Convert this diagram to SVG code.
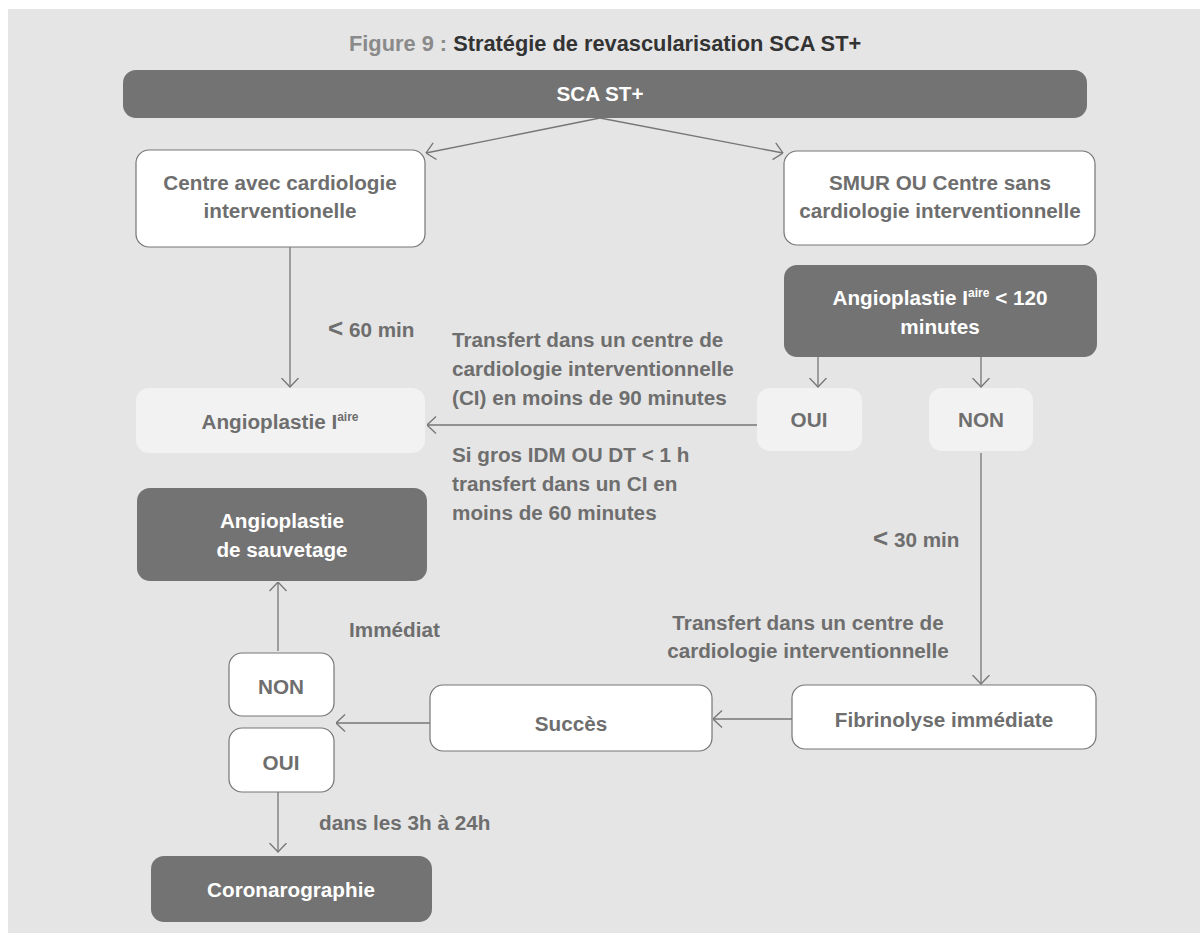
<svg xmlns="http://www.w3.org/2000/svg" width="1200" height="935" viewBox="0 0 1200 935">
  <defs>
    <marker id="arrow" viewBox="0 0 10 19" refX="9.5" refY="9.5" markerWidth="10" markerHeight="19" markerUnits="userSpaceOnUse" orient="auto">
      <path d="M0.5,1 L9.5,9.5 L0.5,18" fill="none" stroke="#767676" stroke-width="1.3"/>
    </marker>
    <style>
      text { font-family: "Liberation Sans", Arial, sans-serif; font-weight: bold; font-size: 20.7px; }
      .g { fill: #6e6e6e; }
      .w { fill: #ffffff; }
      .c { text-anchor: middle; }
      .dark { fill: #737373; }
      .white { fill: #ffffff; stroke: #767676; stroke-width: 1.2; }
      .light { fill: #f2f2f2; }
      .link { fill: none; stroke: #767676; stroke-width: 1.3; marker-end: url(#arrow); }
      .sup { font-size: 12px; }
      .lt { font-size: 26px; }
      .title { font-size: 21.8px; }
    </style>
  </defs>

  <rect x="0" y="0" width="1200" height="935" fill="#ffffff"/>
  <rect x="8" y="9" width="1192" height="924" fill="#e5e5e5"/>

  <!-- title -->
  <text class="title" x="349" y="51"><tspan fill="#8a8a8a">Figure 9 : </tspan><tspan fill="#333333">Stratégie de revascularisation SCA ST+</tspan></text>

  <!-- connectors -->
  <g id="connectors">
    <line class="link" x1="600" y1="118" x2="426" y2="153"/>
    <line class="link" x1="600" y1="118" x2="783" y2="153"/>
    <line class="link" x1="290" y1="247" x2="290" y2="387"/>
    <line class="link" x1="818" y1="357" x2="818" y2="387"/>
    <line class="link" x1="981" y1="357" x2="981" y2="387"/>
    <line class="link" x1="757" y1="425" x2="427" y2="425"/>
    <line class="link" x1="981" y1="453" x2="981" y2="684"/>
    <line class="link" x1="792" y1="719" x2="713" y2="719"/>
    <line class="link" x1="430" y1="723" x2="336" y2="723"/>
    <line class="link" x1="278" y1="651" x2="278" y2="582"/>
    <line class="link" x1="278" y1="792" x2="278" y2="852"/>
  </g>

  <!-- connector labels -->
  <g id="labels">
    <text class="g" x="328" y="337"><tspan class="lt">&lt;</tspan> 60 min</text>
    <text class="g" x="452" y="347">Transfert dans un centre de</text>
    <text class="g" x="452" y="376">cardiologie interventionnelle</text>
    <text class="g" x="452" y="405">(CI) en moins de 90 minutes</text>
    <text class="g" x="452" y="462">Si gros IDM OU DT &lt; 1 h</text>
    <text class="g" x="452" y="491">transfert dans un CI en</text>
    <text class="g" x="452" y="520">moins de 60 minutes</text>
    <text class="g" x="873" y="547"><tspan class="lt">&lt;</tspan> 30 min</text>
    <text class="g c" x="808" y="630">Transfert dans un centre de</text>
    <text class="g c" x="808" y="658">cardiologie interventionnelle</text>
    <text class="g" x="349" y="637">Immédiat</text>
    <text class="g" x="319" y="830">dans les 3h à 24h</text>
  </g>

  <g id="sca">
    <rect class="dark" x="123" y="70" width="964" height="48" rx="13"/>
    <text class="w c" x="600" y="101">SCA ST+</text>
  </g>

  <g id="centre-avec">
    <rect class="white" x="136" y="150" width="289" height="97" rx="13"/>
    <text class="g c" x="280" y="190">Centre avec cardiologie</text>
    <text class="g c" x="280" y="218">interventionelle</text>
  </g>

  <g id="centre-sans">
    <rect class="white" x="784" y="151" width="311" height="94" rx="13"/>
    <text class="g c" x="940" y="190">SMUR OU Centre sans</text>
    <text class="g c" x="940" y="218">cardiologie interventionnelle</text>
  </g>

  <g id="angio-120">
    <rect class="dark" x="784" y="265" width="313" height="92" rx="13"/>
    <text class="w c" x="940" y="305">Angioplastie I<tspan class="sup" dy="-8">aire</tspan><tspan dy="8">  &lt; 120</tspan></text>
    <text class="w c" x="940" y="334">minutes</text>
  </g>

  <g id="oui-120">
    <rect class="light" x="757" y="388" width="105" height="63" rx="13"/>
    <text class="g c" x="809" y="427">OUI</text>
  </g>

  <g id="non-120">
    <rect class="light" x="929" y="388" width="104" height="63" rx="13"/>
    <text class="g c" x="981" y="427">NON</text>
  </g>

  <g id="angio-primaire">
    <rect class="light" x="136" y="388" width="289" height="65" rx="13"/>
    <text class="g c" x="280" y="429">Angioplastie I<tspan class="sup" dy="-8">aire</tspan></text>
  </g>

  <g id="angio-sauvetage">
    <rect class="dark" x="137" y="488" width="290" height="93" rx="13"/>
    <text class="w c" x="282" y="528">Angioplastie</text>
    <text class="w c" x="282" y="557">de sauvetage</text>
  </g>

  <g id="non-fibrinolyse">
    <rect class="white" x="229" y="653" width="105" height="63" rx="13"/>
    <text class="g c" x="281" y="694">NON</text>
  </g>

  <g id="oui-fibrinolyse">
    <rect class="white" x="229" y="728" width="105" height="64" rx="13"/>
    <text class="g c" x="281" y="770">OUI</text>
  </g>

  <g id="succes">
    <rect class="white" x="430" y="685" width="282" height="66" rx="13"/>
    <text class="g c" x="571" y="731">Succès</text>
  </g>

  <g id="fibrinolyse">
    <rect class="white" x="792" y="685" width="304" height="64" rx="13"/>
    <text class="g c" x="944" y="727">Fibrinolyse immédiate</text>
  </g>

  <g id="coronarographie">
    <rect class="dark" x="151" y="856" width="281" height="66" rx="13"/>
    <text class="w c" x="291" y="897">Coronarographie</text>
  </g>
</svg>
